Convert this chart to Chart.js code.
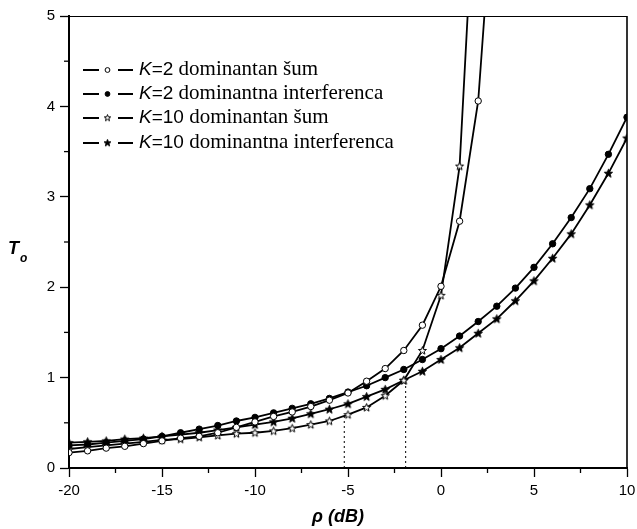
<!DOCTYPE html>
<html>
<head>
<meta charset="utf-8">
<script src="https://cdn.jsdelivr.net/npm/chart.js@4.4.1/dist/chart.umd.min.js"></script>
<style>
  html, body { margin: 0; padding: 0; background: #fff; }
  #wrap { width: 637px; height: 529px; }
</style>
</head>
<body>
<div id="wrap"><canvas id="chart" width="637" height="529"></canvas></div>
<script>
// rho (dB) on x
const rho = [-20, -19, -18, -17, -16, -15, -14, -13, -12, -11, -10, -9, -8, -7, -6, -5, -4, -3, -2, -1, 0, 1, 2, 3, 4, 5, 6, 7, 8, 9, 10];

// T_o values (noise curves leave the plot after a few points)
const k2Noise = [0.17, 0.19, 0.22, 0.24, 0.27, 0.30, 0.33, 0.35, 0.39, 0.45, 0.51, 0.57, 0.62, 0.68, 0.75, 0.83, 0.96, 1.10, 1.30, 1.58, 2.01, 2.73, 4.06, 6.9];
const k2Interf = [0.25, 0.26, 0.28, 0.30, 0.32, 0.35, 0.39, 0.43, 0.47, 0.52, 0.56, 0.61, 0.66, 0.71, 0.77, 0.84, 0.91, 1.00, 1.09, 1.20, 1.32, 1.46, 1.62, 1.79, 1.99, 2.22, 2.48, 2.77, 3.09, 3.47, 3.88];
const k10Noise = [0.21, 0.23, 0.25, 0.27, 0.29, 0.31, 0.32, 0.34, 0.36, 0.38, 0.39, 0.41, 0.44, 0.48, 0.52, 0.59, 0.67, 0.80, 0.97, 1.30, 1.91, 3.34, 7.2];
const k10Interf = [0.28, 0.29, 0.30, 0.32, 0.33, 0.35, 0.37, 0.39, 0.42, 0.45, 0.48, 0.51, 0.55, 0.60, 0.65, 0.71, 0.79, 0.87, 0.97, 1.07, 1.20, 1.33, 1.49, 1.65, 1.85, 2.07, 2.32, 2.59, 2.91, 3.26, 3.65];

// dotted drop lines (crossing points)
const dropX = [-5.2, -1.9];
const dropY = [0.59, 0.97];

const legendK = ["2", "2", "10", "10"];
const legendText = ["dominantan šum", "dominantna interferenca", "dominantan šum", "dominantna interferenca"];

const xTicks = [-20, -15, -10, -5, 0, 5, 10];
const yTicks = [0, 1, 2, 3, 4, 5];

// 5-point star as point image
function makeStar(filled, R) {
  const c = document.createElement("canvas");
  c.width = 11;
  c.height = 11;
  const g = c.getContext("2d");
  g.beginPath();
  for (let i = 0; i < 10; i++) {
    const r = i % 2 === 0 ? R : R * 0.42;
    const a = -Math.PI / 2 + (i * Math.PI) / 5;
    const px = 5.5 + r * Math.cos(a);
    const py = 5.8 + r * Math.sin(a);
    if (i === 0) g.moveTo(px, py);
    else g.lineTo(px, py);
  }
  g.closePath();
  g.fillStyle = filled ? "#000" : "#fff";
  g.fill();
  g.lineWidth = 1;
  g.strokeStyle = "#000";
  g.stroke();
  return c;
}
const starOpen = makeStar(false, 4.2);
const starFull = makeStar(true, 4.4);
const starOpenSmall = makeStar(false, 3.4);
const starFullSmall = makeStar(true, 3.6);

const toXY = (arr) => arr.map((v, i) => ({ x: rho[i], y: v }));

const series = [
  { label: "K=2 dominantan šum", data: toXY(k2Noise), pointStyle: "circle", pointBackgroundColor: "#fff", legendStar: null },
  { label: "K=2 dominantna interferenca", data: toXY(k2Interf), pointStyle: "circle", pointBackgroundColor: "#000", legendStar: null },
  { label: "K=10 dominantan šum", data: toXY(k10Noise), pointStyle: starOpen, legendStar: starOpenSmall },
  { label: "K=10 dominantna interferenca", data: toXY(k10Interf), pointStyle: starFull, legendStar: starFullSmall },
];

const datasets = series.map((s) => ({
  label: s.label,
  data: s.data,
  borderColor: "#000",
  borderWidth: 1.8,
  tension: 0,
  pointStyle: s.pointStyle,
  pointRadius: 3.2,
  pointBorderWidth: 1,
  pointBorderColor: "#000",
  pointBackgroundColor: s.pointBackgroundColor || "#000",
}));

dropX.forEach((x, i) => {
  datasets.push({
    label: "drop" + i,
    data: [{ x: x, y: 0 }, { x: x, y: dropY[i] }],
    borderColor: "#000",
    borderWidth: 1,
    borderDash: [2, 3],
    pointRadius: 0,
  });
});

const decorPlugin = {
  id: "decor",
  afterDraw(chart) {
    const ctx = chart.ctx;
    const a = chart.chartArea;
    const xs = chart.scales.x;
    const ys = chart.scales.y;
    ctx.save();
    ctx.strokeStyle = "#000";

    // top and right frame
    ctx.lineWidth = 1;
    ctx.beginPath();
    ctx.moveTo(a.left, a.top + 0.5);
    ctx.lineTo(a.right, a.top + 0.5);
    ctx.stroke();
    ctx.lineWidth = 1.6;
    ctx.beginPath();
    ctx.moveTo(a.right, a.top);
    ctx.lineTo(a.right, a.bottom);
    ctx.stroke();

    // minor ticks
    ctx.lineWidth = 1.3;
    for (let i = 0; i < xTicks.length - 1; i++) {
      const px = xs.getPixelForValue((xTicks[i] + xTicks[i + 1]) / 2);
      ctx.beginPath();
      ctx.moveTo(px, a.bottom);
      ctx.lineTo(px, a.bottom + 5);
      ctx.stroke();
    }
    for (let i = 0; i < yTicks.length - 1; i++) {
      const py = ys.getPixelForValue((yTicks[i] + yTicks[i + 1]) / 2);
      ctx.beginPath();
      ctx.moveTo(a.left - 5, py);
      ctx.lineTo(a.left, py);
      ctx.stroke();
    }

    // legend
    const rowY = [70, 94, 118, 143];
    series.forEach((s, i) => {
      const y = rowY[i];
      ctx.strokeStyle = "#000";
      ctx.lineWidth = 1.8;
      ctx.beginPath();
      ctx.moveTo(83, y);
      ctx.lineTo(99, y);
      ctx.moveTo(118, y);
      ctx.lineTo(133, y);
      ctx.stroke();
      if (s.pointStyle === "circle") {
        ctx.beginPath();
        ctx.arc(107.5, y, 2.4, 0, Math.PI * 2);
        ctx.fillStyle = s.pointBackgroundColor;
        ctx.fill();
        ctx.lineWidth = 1;
        ctx.stroke();
      } else {
        ctx.drawImage(s.legendStar, 107.5 - 5.5, y - 5.8);
      }
      ctx.fillStyle = "#000";
      ctx.textBaseline = "alphabetic";
      ctx.textAlign = "left";
      let tx = 139;
      const base = y + 5;
      ctx.font = "italic 19px 'Liberation Sans', Arial, sans-serif";
      ctx.fillText("K", tx, base);
      tx += ctx.measureText("K").width;
      ctx.font = "19px 'Liberation Sans', Arial, sans-serif";
      ctx.fillText("=" + legendK[i], tx, base);
      tx += ctx.measureText("=" + legendK[i]).width;
      ctx.font = "21px 'Liberation Serif', 'Times New Roman', serif";
      ctx.fillText(" " + legendText[i], tx, base);
    });

    // axis titles
    ctx.fillStyle = "#000";
    ctx.textAlign = "left";
    ctx.font = "italic bold 18px 'Liberation Sans', Arial, sans-serif";
    ctx.fillText("T", 8, 254);
    ctx.font = "italic bold 12px 'Liberation Sans', Arial, sans-serif";
    ctx.fillText("o", 20, 262);
    ctx.textAlign = "center";
    ctx.font = "italic bold 18px 'Liberation Sans', Arial, sans-serif";
    ctx.fillText("ρ (dB)", 338, 522);
    ctx.restore();
  },
};

new Chart(document.getElementById("chart").getContext("2d"), {
  type: "line",
  data: { datasets: datasets },
  plugins: [decorPlugin],
  options: {
    responsive: false,
    animation: false,
    layout: { padding: { top: 16, right: 10, left: 0, bottom: 0 } },
    plugins: { legend: { display: false }, tooltip: { enabled: false } },
    scales: {
      x: {
        type: "linear",
        min: -20,
        max: 10,
        afterFit: (s) => {
          s.height = 61;
          s.paddingLeft = 0;
          s.paddingRight = 0;
        },
        afterBuildTicks: (s) => { s.ticks = xTicks.map((v) => ({ value: v })); },
        ticks: { color: "#000", padding: 5, font: { family: "'Liberation Sans', Arial, sans-serif", size: 15 } },
        grid: { drawOnChartArea: false, tickLength: 9, tickColor: "#000", tickWidth: 1.3 },
        border: { color: "#000", width: 2 },
      },
      y: {
        min: 0,
        max: 5,
        afterFit: (s) => {
          s.width = 69;
          s.paddingTop = 0;
          s.paddingBottom = 0;
        },
        afterBuildTicks: (s) => { s.ticks = yTicks.map((v) => ({ value: v })); },
        ticks: { color: "#000", padding: 5, font: { family: "'Liberation Sans', Arial, sans-serif", size: 15 } },
        grid: { drawOnChartArea: false, tickLength: 9, tickColor: "#000", tickWidth: 1.3 },
        border: { color: "#000", width: 2 },
      },
    },
  },
});
</script>
</body>
</html>
